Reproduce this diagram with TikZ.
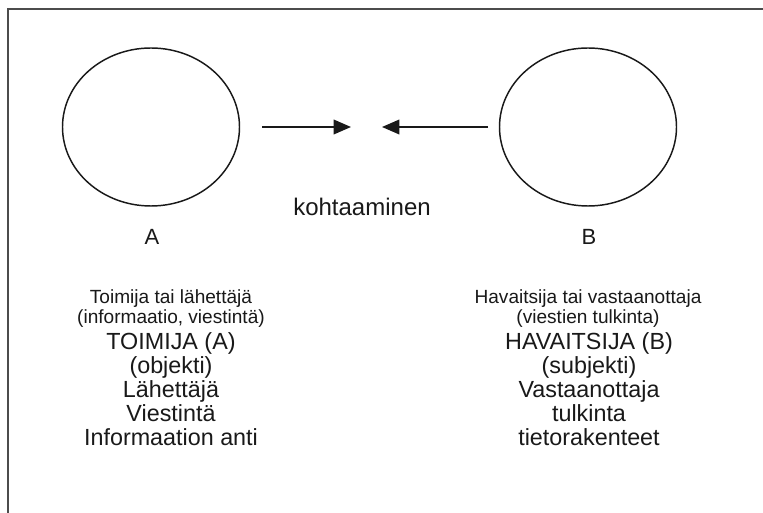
\documentclass[tikz,border=0pt]{standalone}
\usepackage{fontspec}
\setmainfont{Liberation Sans}
\usetikzlibrary{shapes.geometric,arrows.meta}

\tikzset{
  frameline/.style={draw=black!70, line width=1.4pt},
  party/.style={ellipse, draw=black!90, line width=1.1pt, minimum width=132.75pt, minimum height=118.5pt, inner sep=0pt},
  meetarrow/.style={draw=black!90, line width=1.1pt, -{Triangle[length=13pt,width=11pt]}},
  letter/.style={font=\fontsize{16.5}{20}\selectfont, text=black!90, inner sep=0pt, anchor=base},
  smalltxt/.style={font=\fontsize{14.3}{17}\selectfont, text=black!90, inner sep=0pt, anchor=base},
  bigtxt/.style={font=\fontsize{17.5}{21}\selectfont, text=black!90, inner sep=0pt, anchor=base},
}

\begin{document}
\begin{tikzpicture}[x=0.75pt, y=-0.75pt]
  \useasboundingbox (0,0) rectangle (763,513);
  \fill[white] (0,0) rectangle (763,513);

  % open frame: top and left edges
  \coordinate (fBL) at (8,513);
  \coordinate (fTL) at (8,9);
  \coordinate (fTR) at (763,9);
  \draw[frameline] (fBL) -- (fTL) -- (fTR);

  % the two parties
  \node[party] (cA) at (151,127) {};
  \node[party] (cB) at (588,127) {};
  \node[letter] (lA) at (152,244) {A};
  \node[letter] (lB) at (589,244) {B};

  % arrows meeting in the middle
  \coordinate (aLs) at (262,127);
  \coordinate (aLe) at (351,127);
  \coordinate (aRs) at (488,127);
  \coordinate (aRe) at (382,127);
  \draw[meetarrow] (aLs) -- (aLe);
  \draw[meetarrow] (aRs) -- (aRe);

  \node[bigtxt, font=\fontsize{18}{21}\selectfont] (meet) at (362,215) {kohtaaminen};

  % left column
  \node[smalltxt] (L1) at (171,303) {Toimija tai lähettäjä};
  \node[smalltxt] (L2) at (171,323) {(informaatio, viestintä)};
  \node[bigtxt]   (L3) at (171,349) {TOIMIJA (A)};
  \node[bigtxt]   (L4) at (171,373) {(objekti)};
  \node[bigtxt]   (L5) at (171,397) {Lähettäjä};
  \node[bigtxt]   (L6) at (171,421) {Viestintä};
  \node[bigtxt]   (L7) at (171,445) {Informaation anti};

  % right column
  \node[smalltxt] (R1) at (588,303) {Havaitsija tai vastaanottaja};
  \node[smalltxt] (R2) at (588,323) {(viestien tulkinta)};
  \node[bigtxt]   (R3) at (589,349) {HAVAITSIJA (B)};
  \node[bigtxt]   (R4) at (589,373) {(subjekti)};
  \node[bigtxt]   (R5) at (589,397) {Vastaanottaja};
  \node[bigtxt]   (R6) at (589,421) {tulkinta};
  \node[bigtxt]   (R7) at (589,445) {tietorakenteet};
\end{tikzpicture}
\end{document}
